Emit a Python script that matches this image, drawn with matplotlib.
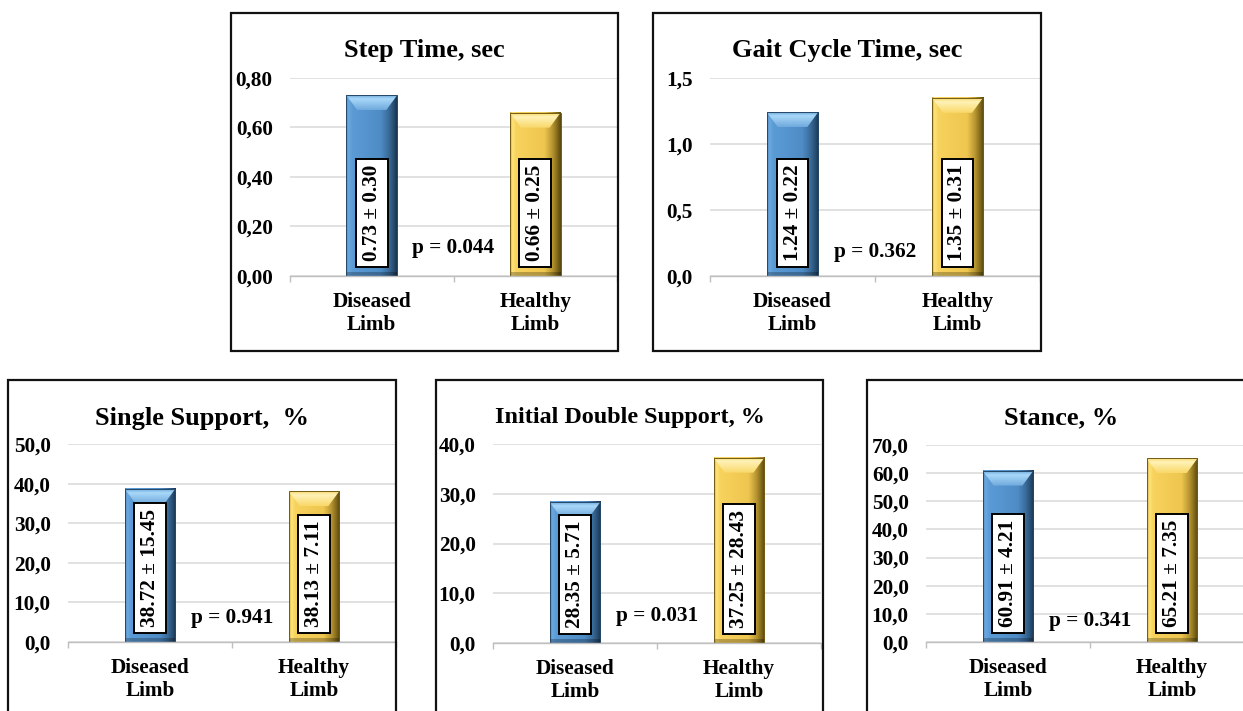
import numpy as np
import matplotlib.pyplot as plt
from matplotlib.patches import Rectangle, Polygon
from matplotlib.colors import to_rgb

plt.rcParams['font.family'] = ['Liberation Serif', 'DejaVu Serif']
plt.rcParams['font.weight'] = 'bold'

CATEGORIES = ["Diseased\nLimb", "Healthy\nLimb"]
TITLES = ["Step Time, sec", "Gait Cycle Time, sec", "Single Support,  %",
          "Initial Double Support, %", "Stance, %"]
DISEASED_MEAN = [0.73, 1.24, 38.72, 28.35, 60.91]
DISEASED_SD = [0.30, 0.22, 15.45, 5.71, 4.21]
HEALTHY_MEAN = [0.66, 1.35, 38.13, 37.25, 65.21]
HEALTHY_SD = [0.25, 0.31, 7.11, 28.43, 7.35]
P_VALUES = ["0.044", "0.362", "0.941", "0.031", "0.341"]
Y_MAX = [0.80, 1.5, 50, 40, 70]
Y_STEP = [0.20, 0.5, 10, 10, 10]
Y_DECIMALS = [2, 1, 1, 1, 1]

# layout, in pixels of the 1243x711 picture
W, H = 1243, 711
PANEL_BOX = [(231, 13, 618, 351), (653, 13, 1041, 351), (8, 380, 396, 720),
             (436, 380, 823, 720), (867, 380, 1256, 720)]
AX_BOX = [(290, 78, 617, 276), (710, 78, 1040, 276), (68, 444, 396, 642),
          (493, 444, 821, 643), (926, 445, 1254, 642)]
TITLE_Y = [50, 50, 418, 418, 418]
TITLE_SIZE = [19, 19, 19, 17.4, 19]
P_Y = [0.14, 0.12, 0.12, 0.135, 0.105]

BLUE = dict(stops=[(0, "#4f87bd"), (0.04, "#6aa8e0"), (0.12, "#5b9bd5"),
                   (0.68, "#4f8cc6"), (0.84, "#3a6c9b"), (0.94, "#284d71"),
                   (1, "#1a3550")],
            top=("#a9d8f8", "#6fa9dc"), edge="#264868")
GOLD = dict(stops=[(0, "#c9a63a"), (0.04, "#ffe37a"), (0.12, "#f7d25c"),
                   (0.68, "#eec650"), (0.84, "#b59430"), (0.94, "#7e661a"),
                   (1, "#5a480f")],
            top=("#fff2b8", "#f9d868"), edge="#725c15")


def gradient(stops, n=80):
    t = np.linspace(0, 1, n)
    pos = [s[0] for s in stops]
    cols = np.array([to_rgb(s[1]) for s in stops])
    return np.stack([np.interp(t, pos, cols[:, k]) for k in range(3)], axis=-1)


def shade_bar(ax, rect, style, dxp, dyp):
    x0, w, h = rect.get_x(), rect.get_width(), rect.get_height()
    x1 = x0 + w
    ax.imshow(gradient(style["stops"])[None, :, :], extent=(x0, x1, 0, h),
              aspect='auto', interpolation='bilinear', zorder=2.1)
    # darker bottom strip
    ax.add_patch(Rectangle((x0, 0), w, 4 * dyp, facecolor="black", alpha=0.25,
                           edgecolor='none', zorder=2.2))
    # bevelled top
    bh, bw = 15 * dyp, 11 * dxp
    poly = Polygon([(x0, h), (x1, h), (x1 - bw, h - bh), (x0 + bw, h - bh)],
                   closed=True, facecolor='none', edgecolor='none', zorder=2.3)
    ax.add_patch(poly)
    top = gradient([(0, style["top"][1]), (0.75, style["top"][0]), (1, style["top"][1])])
    im = ax.imshow(top[:, None, :], extent=(x0, x1, h - bh, h), origin='lower',
                   aspect='auto', interpolation='bilinear', zorder=2.3)
    im.set_clip_path(poly)
    ax.add_patch(Rectangle((x0, 0), w, h, facecolor='none', edgecolor=style["edge"],
                           linewidth=0.7, zorder=2.4))


def main():
    fig = plt.figure(figsize=(W / 100, H / 100), dpi=100)

    for i in range(len(TITLES)):
        bx0, by0, bx1, by1 = PANEL_BOX[i]
        fig.add_artist(Rectangle((bx0 / W, 1 - by1 / H), (bx1 - bx0) / W, (by1 - by0) / H,
                                 transform=fig.transFigure, facecolor='none',
                                 edgecolor='#111111', linewidth=1.6))
        fig.text((bx0 + bx1) / 2 / W, 1 - TITLE_Y[i] / H, TITLES[i], ha='center',
                 va='center', fontsize=TITLE_SIZE[i], fontweight='bold')

        ax0, ay0, ax1, ay1 = AX_BOX[i]
        ax = fig.add_axes([ax0 / W, 1 - ay1 / H, (ax1 - ax0) / W, (ay1 - ay0) / H])
        ax.patch.set_alpha(0)
        means = [DISEASED_MEAN[i], HEALTHY_MEAN[i]]
        sds = [DISEASED_SD[i], HEALTHY_SD[i]]
        x = np.arange(len(CATEGORIES))
        bars = ax.bar(x, means, width=0.31, color=["#5b9bd5", "#ffd966"],
                      edgecolor='none', zorder=2)

        ax.set_xlim(-0.5, 1.5)
        ax.set_ylim(0, Y_MAX[i])
        dxp = 2.0 / (ax1 - ax0)
        dyp = Y_MAX[i] / (ay1 - ay0)
        for rect, style in zip(bars, [BLUE, GOLD]):
            shade_bar(ax, rect, style, dxp, dyp)
        ax.set_xlim(-0.5, 1.5)
        ax.set_ylim(0, Y_MAX[i])

        for xi, m, s in zip(x, means, sds):
            ax.annotate(f"{m:.2f} ± {s:.2f}", xy=(xi, 0), xytext=(0, 10.5),
                        textcoords='offset points', rotation=90, ha='center',
                        va='bottom', fontsize=15.3, fontweight='bold', zorder=5,
                        bbox=dict(boxstyle='square,pad=0.28', fc='white',
                                  ec='black', lw=1.4))
        ax.text(0.5, P_Y[i], "p = " + P_VALUES[i], transform=ax.transAxes,
                ha='center', va='center', fontsize=15.3, fontweight='bold', zorder=5)

        yt = np.arange(0, Y_MAX[i] + Y_STEP[i] / 2, Y_STEP[i])
        ax.set_yticks(yt)
        ax.set_yticklabels([f"{v:.{Y_DECIMALS[i]}f}".replace('.', ',') for v in yt],
                           fontsize=15.3, fontweight='bold')
        ax.set_xticks(x)
        ax.set_xticklabels(CATEGORIES, fontsize=15.3, fontweight='bold', linespacing=1.2)
        ax.set_xticks([-0.5, 0.5, 1.5], minor=True)
        ax.tick_params(axis='x', which='major', length=0, pad=11.5)
        ax.tick_params(axis='x', which='minor', length=4, color='#bfbfbf', width=1)
        ax.tick_params(axis='y', length=0, pad=12.5)
        ax.yaxis.grid(True, color='#d9d9d9', linewidth=1.1)
        ax.set_axisbelow(True)
        for side in ['top', 'left', 'right']:
            ax.spines[side].set_visible(False)
        ax.spines['bottom'].set_color('#bfbfbf')
        ax.spines['bottom'].set_linewidth(1.0)

    fig.savefig("out.png", dpi=100)


if __name__ == "__main__":
    main()
